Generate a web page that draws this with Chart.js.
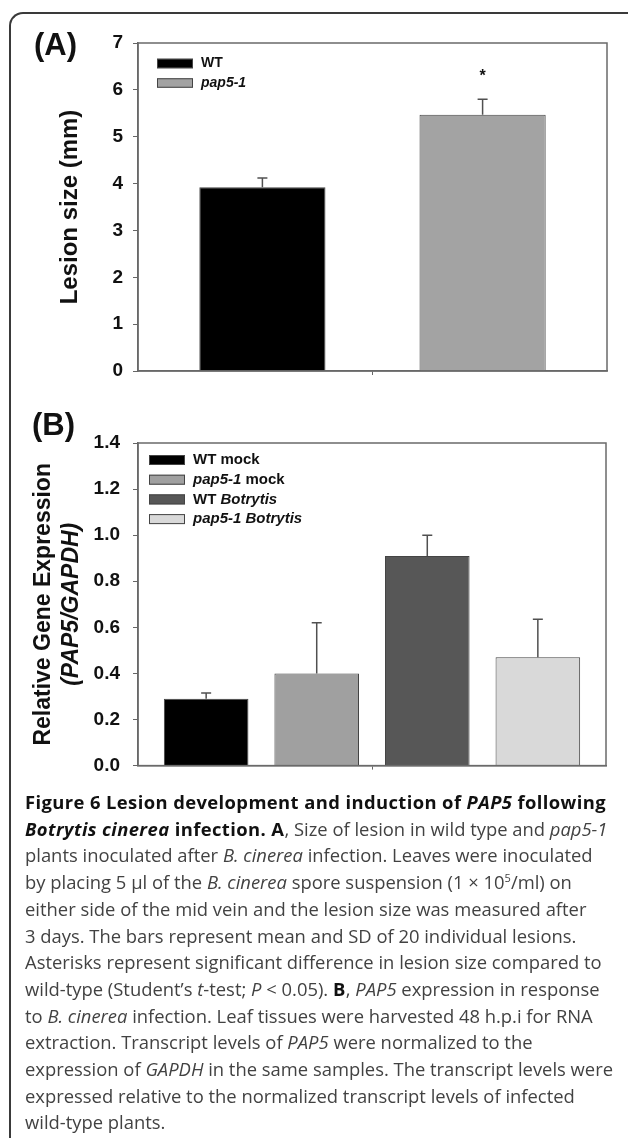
<!DOCTYPE html>
<html>
<head>
<meta charset="utf-8">
<script src="https://cdn.jsdelivr.net/npm/chart.js@4.4.1/dist/chart.umd.min.js"></script>
<style>
  body { margin: 0; background: #fff; }
  #page { position: relative; width: 629px; height: 1138px; overflow: hidden; background: #fff; }
  #frame { position: absolute; left: 9px; top: 12px; width: 617px; height: 1200px;
           border-left: 2px solid #3a3a3a; border-top: 2px solid #3a3a3a; border-top-left-radius: 14px; }
  #chartA { position: absolute; left: 0; top: 0; }
  #chartB { position: absolute; left: 0; top: 400px; }
  #caption { position: absolute; left: 25px; top: 789px; font-family: "Open Sans", sans-serif;
             font-size: 18.4px; line-height: 26.7px; color: #424242; white-space: nowrap; }
  #caption b { color: #111; letter-spacing: 0.4px; }
  #caption sup { font-size: 11px; line-height: 0; }
</style>
</head>
<body>
<div id="page">
  <div id="frame"></div>
  <canvas id="chartA" width="629" height="400"></canvas>
  <canvas id="chartB" width="629" height="390"></canvas>
  <div id="caption">
    <div><b>Figure 6 Lesion development and induction of <i>PAP5</i> following</b></div>
    <div><b><i>Botrytis cinerea</i> infection. A</b>, Size of lesion in wild type and <i>pap5-1</i></div>
    <div>plants inoculated after <i>B. cinerea</i> infection. Leaves were inoculated</div>
    <div>by placing 5 µl of the <i>B. cinerea</i> spore suspension (1 × 10<sup>5</sup>/ml) on</div>
    <div>either side of the mid vein and the lesion size was measured after</div>
    <div>3 days. The bars represent mean and SD of 20 individual lesions.</div>
    <div>Asterisks represent significant difference in lesion size compared to</div>
    <div>wild-type (Student’s <i>t</i>-test; <i>P</i> &lt; 0.05). <b>B</b>, <i>PAP5</i> expression in response</div>
    <div>to <i>B. cinerea</i> infection. Leaf tissues were harvested 48 h.p.i for RNA</div>
    <div>extraction. Transcript levels of <i>PAP5</i> were normalized to the</div>
    <div>expression of <i>GAPDH</i> in the same samples. The transcript levels were</div>
    <div>expressed relative to the normalized transcript levels of infected</div>
    <div>wild-type plants.</div>
  </div>
</div>
<script>
// panel A - lesion size (mm)
var lesionLabels = ['WT', 'pap5-1'];
var lesionMean = [3.92, 5.47];
var lesionSD = [0.20, 0.33];
var lesionColors = ['#000000', '#a3a3a3'];

// panel B - relative expression PAP5/GAPDH
var exprLabels = ['WT mock', 'pap5-1 mock', 'WT Botrytis', 'pap5-1 Botrytis'];
var exprMean = [0.29, 0.40, 0.91, 0.47];
var exprSD = [0.025, 0.22, 0.09, 0.165];
var exprColors = ['#000000', '#a0a0a0', '#575757', '#d9d9d9'];

var FONT = '"Liberation Sans", Arial, sans-serif';
var italicWords = ['pap5-1', 'Botrytis'];

// write a label word by word, italic for gene / organism names
function mixedText(ctx, text, x, y, size) {
  text.split(' ').forEach(function(w) {
    ctx.font = (italicWords.indexOf(w) >= 0 ? 'italic ' : '') + 'bold ' + size + 'px ' + FONT;
    ctx.fillText(w, x, y);
    x += ctx.measureText(w + ' ').width;
  });
}

var extras = {
  id: 'extras',
  afterDatasetsDraw: function(chart) {
    var ctx = chart.ctx, y = chart.scales.y;
    ctx.save();
    ctx.strokeStyle = '#505050';
    ctx.lineWidth = 1.5;
    chart.data.datasets.forEach(function(ds, i) {
      var bar = chart.getDatasetMeta(i).data[0];
      var top = y.getPixelForValue(ds.data[0] + ds.sd[0]);
      ctx.beginPath();
      ctx.moveTo(bar.x, bar.y);
      ctx.lineTo(bar.x, top);
      ctx.moveTo(bar.x - 5, top);
      ctx.lineTo(bar.x + 5, top);
      ctx.stroke();
    });
    ctx.restore();
  },
  afterDraw: function(chart, args, o) {
    var ctx = chart.ctx, a = chart.chartArea;
    ctx.save();
    // box round the plot
    ctx.strokeStyle = '#6a6a6a';
    ctx.lineWidth = 1.5;
    ctx.strokeRect(a.left, a.top, a.right - a.left, a.bottom - a.top);

    ctx.fillStyle = '#111';
    ctx.textBaseline = 'middle';
    ctx.font = 'bold 31px ' + FONT;
    ctx.fillText(o.panel, o.panelX, o.panelY);

    // y title(s), rotated
    ctx.save();
    ctx.translate(0, (a.top + a.bottom) / 2);
    ctx.rotate(-Math.PI / 2);
    ctx.textAlign = 'center';
    o.title.forEach(function(t) {
      ctx.font = t.font + ' ' + o.titleSize + 'px ' + FONT;
      ctx.fillText(t.text, 0, t.x);
    });
    ctx.restore();

    // legend
    ctx.lineWidth = 1;
    ctx.strokeStyle = '#444';
    chart.data.datasets.forEach(function(ds, i) {
      var cy = o.legY + i * o.legStep;
      ctx.fillStyle = ds.backgroundColor;
      ctx.fillRect(o.legX, cy - o.boxH / 2, 36, o.boxH);
      ctx.strokeRect(o.legX + 0.5, cy - o.boxH / 2 + 0.5, 35, o.boxH - 1);
      ctx.fillStyle = '#111';
      mixedText(ctx, ds.label, o.legX + 44, cy, o.legSize);
    });

    // significance mark
    if (o.star !== undefined) {
      var ds = chart.data.datasets[o.star];
      var bar = chart.getDatasetMeta(o.star).data[0];
      var top = chart.scales.y.getPixelForValue(ds.data[0] + ds.sd[0]);
      ctx.textAlign = 'center';
      ctx.textBaseline = 'alphabetic';
      ctx.font = 'bold 16px ' + FONT;
      ctx.fillText('*', bar.x, top - 18);
    }
    ctx.restore();
  }
};

function makeScales(max, step, xHeight, pad, fmt) {
  return {
    x: {
      grid: { offset: false, drawOnChartArea: false, tickLength: 4, color: '#666' },
      border: { color: '#666', width: 1.5 },
      ticks: { display: true },
      afterFit: function(s) { s.height = xHeight; }
    },
    y: {
      min: 0, max: max,
      grid: { drawOnChartArea: false, tickLength: 5, color: '#666' },
      border: { color: '#666', width: 1.5 },
      ticks: { stepSize: step, padding: pad, color: '#111',
               font: { family: FONT, size: 19, weight: 'bold' }, callback: fmt },
      afterFit: function(s) { s.width = 138; }
    }
  };
}

new Chart(document.getElementById('chartA').getContext('2d'), {
  type: 'bar',
  data: {
    labels: [''],
    datasets: lesionLabels.map(function(l, i) {
      return { label: l, data: [lesionMean[i]], sd: [lesionSD[i]],
               backgroundColor: lesionColors[i], borderColor: '#444', borderWidth: 1,
               categoryPercentage: 0.939, barPercentage: 0.573 };
    })
  },
  options: {
    responsive: false, animation: false,
    layout: { padding: { top: 43, right: 22, left: 0, bottom: 0 } },
    scales: makeScales(7, 1, 29, 10, function(v) { return v; }),
    plugins: {
      legend: { display: false }, tooltip: { enabled: false },
      extras: { panel: '(A)', panelX: 34, panelY: 46, titleSize: 24,
                title: [{ text: 'Lesion size (mm)', font: 'bold', x: 70 }],
                legX: 157, legY: 63.5, legStep: 19.5, boxH: 9.5, legSize: 14, star: 1 }
    }
  },
  plugins: [extras]
});

new Chart(document.getElementById('chartB').getContext('2d'), {
  type: 'bar',
  data: {
    labels: [''],
    datasets: exprLabels.map(function(l, i) {
      return { label: l, data: [exprMean[i]], sd: [exprSD[i]],
               backgroundColor: exprColors[i], borderColor: '#444', borderWidth: 1,
               categoryPercentage: 0.945, barPercentage: 0.765 };
    })
  },
  options: {
    responsive: false, animation: false,
    layout: { padding: { top: 43, right: 23, left: 0, bottom: 0 } },
    scales: makeScales(1.4, 0.2, 22, 13, function(v) { return v.toFixed(1); }),
    plugins: {
      legend: { display: false }, tooltip: { enabled: false },
      extras: { panel: '(B)', panelX: 32, panelY: 26, titleSize: 23,
                title: [{ text: 'Relative Gene Expression', font: 'bold', x: 44 },
                        { text: '(PAP5/GAPDH)', font: 'italic bold', x: 72 }],
                legX: 149, legY: 60, legStep: 19.7, boxH: 10, legSize: 15 }
    }
  },
  plugins: [extras]
});
</script>
</body>
</html>
